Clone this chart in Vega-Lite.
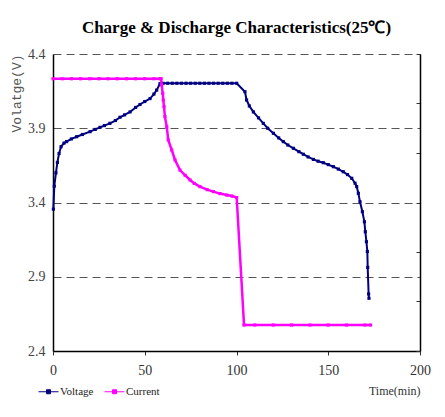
{
  "$schema": "https://vega.github.io/schema/vega-lite/v6.json",
  "width": 367,
  "height": 297,
  "autosize": {"type": "none"},
  "padding": {"left": 53, "top": 54, "right": 25, "bottom": 66},
  "background": "white",
  "title": {
    "text": "Charge & Discharge Characteristics(25℃)",
    "font": "Liberation Serif",
    "fontSize": 17,
    "fontWeight": "bold",
    "color": "black",
    "offset": 10,
    "anchor": "middle"
  },
  "data": {
    "values": [
      {"s": "Voltage", "t": 0.2, "val": 3.355},
      {"s": "Voltage", "t": 0.7, "val": 3.51},
      {"s": "Voltage", "t": 1.6, "val": 3.6},
      {"s": "Voltage", "t": 2.4, "val": 3.67},
      {"s": "Voltage", "t": 3.3, "val": 3.73},
      {"s": "Voltage", "t": 4.4, "val": 3.776},
      {"s": "Voltage", "t": 6, "val": 3.8},
      {"s": "Voltage", "t": 7.4, "val": 3.81},
      {"s": "Voltage", "t": 10, "val": 3.828},
      {"s": "Voltage", "t": 12.9, "val": 3.843},
      {"s": "Voltage", "t": 16, "val": 3.858},
      {"s": "Voltage", "t": 20.2, "val": 3.877},
      {"s": "Voltage", "t": 23, "val": 3.892},
      {"s": "Voltage", "t": 25.6, "val": 3.906},
      {"s": "Voltage", "t": 28, "val": 3.918},
      {"s": "Voltage", "t": 31, "val": 3.933},
      {"s": "Voltage", "t": 34, "val": 3.952},
      {"s": "Voltage", "t": 36.5, "val": 3.974},
      {"s": "Voltage", "t": 39, "val": 3.99},
      {"s": "Voltage", "t": 42, "val": 4.01},
      {"s": "Voltage", "t": 45, "val": 4.04},
      {"s": "Voltage", "t": 47.4, "val": 4.06},
      {"s": "Voltage", "t": 50, "val": 4.08},
      {"s": "Voltage", "t": 52.9, "val": 4.1},
      {"s": "Voltage", "t": 55, "val": 4.13},
      {"s": "Voltage", "t": 56.5, "val": 4.157},
      {"s": "Voltage", "t": 58.3, "val": 4.2},
      {"s": "Voltage", "t": 60, "val": 4.203},
      {"s": "Voltage", "t": 62.5, "val": 4.203},
      {"s": "Voltage", "t": 65, "val": 4.203},
      {"s": "Voltage", "t": 67.5, "val": 4.203},
      {"s": "Voltage", "t": 70, "val": 4.203},
      {"s": "Voltage", "t": 72.5, "val": 4.203},
      {"s": "Voltage", "t": 75, "val": 4.203},
      {"s": "Voltage", "t": 77.5, "val": 4.203},
      {"s": "Voltage", "t": 80, "val": 4.203},
      {"s": "Voltage", "t": 82.5, "val": 4.203},
      {"s": "Voltage", "t": 85, "val": 4.203},
      {"s": "Voltage", "t": 87.5, "val": 4.203},
      {"s": "Voltage", "t": 90, "val": 4.203},
      {"s": "Voltage", "t": 92.5, "val": 4.203},
      {"s": "Voltage", "t": 95, "val": 4.203},
      {"s": "Voltage", "t": 97.5, "val": 4.203},
      {"s": "Voltage", "t": 100.1, "val": 4.203},
      {"s": "Voltage", "t": 104.6, "val": 4.146},
      {"s": "Voltage", "t": 105.5, "val": 4.09},
      {"s": "Voltage", "t": 107, "val": 4.05},
      {"s": "Voltage", "t": 109.2, "val": 4.01},
      {"s": "Voltage", "t": 112, "val": 3.97},
      {"s": "Voltage", "t": 114.6, "val": 3.933},
      {"s": "Voltage", "t": 117, "val": 3.9},
      {"s": "Voltage", "t": 120.1, "val": 3.866},
      {"s": "Voltage", "t": 123, "val": 3.835},
      {"s": "Voltage", "t": 125.5, "val": 3.81},
      {"s": "Voltage", "t": 128, "val": 3.787},
      {"s": "Voltage", "t": 131, "val": 3.765},
      {"s": "Voltage", "t": 134, "val": 3.742},
      {"s": "Voltage", "t": 136.4, "val": 3.725},
      {"s": "Voltage", "t": 139, "val": 3.707},
      {"s": "Voltage", "t": 141.9, "val": 3.69},
      {"s": "Voltage", "t": 144.5, "val": 3.678},
      {"s": "Voltage", "t": 147.3, "val": 3.668},
      {"s": "Voltage", "t": 150, "val": 3.655},
      {"s": "Voltage", "t": 152.8, "val": 3.641},
      {"s": "Voltage", "t": 155.5, "val": 3.625},
      {"s": "Voltage", "t": 158.2, "val": 3.607},
      {"s": "Voltage", "t": 160.5, "val": 3.588},
      {"s": "Voltage", "t": 162.8, "val": 3.563},
      {"s": "Voltage", "t": 164.6, "val": 3.53},
      {"s": "Voltage", "t": 165.5, "val": 3.507},
      {"s": "Voltage", "t": 166.4, "val": 3.462},
      {"s": "Voltage", "t": 167.3, "val": 3.405},
      {"s": "Voltage", "t": 168.6, "val": 3.338},
      {"s": "Voltage", "t": 169.7, "val": 3.27},
      {"s": "Voltage", "t": 170.2, "val": 3.203},
      {"s": "Voltage", "t": 170.8, "val": 3.136},
      {"s": "Voltage", "t": 171.3, "val": 3.07},
      {"s": "Voltage", "t": 171.5, "val": 2.963},
      {"s": "Voltage", "t": 172, "val": 2.784},
      {"s": "Voltage", "t": 172.2, "val": 2.755},
      {"s": "Current", "t": 0, "val": 1.1},
      {"s": "Current", "t": 5, "val": 1.1},
      {"s": "Current", "t": 10, "val": 1.1},
      {"s": "Current", "t": 15, "val": 1.1},
      {"s": "Current", "t": 20, "val": 1.1},
      {"s": "Current", "t": 25, "val": 1.1},
      {"s": "Current", "t": 30, "val": 1.1},
      {"s": "Current", "t": 35, "val": 1.1},
      {"s": "Current", "t": 40, "val": 1.1},
      {"s": "Current", "t": 45, "val": 1.1},
      {"s": "Current", "t": 50, "val": 1.1},
      {"s": "Current", "t": 55, "val": 1.1},
      {"s": "Current", "t": 58.3, "val": 1.1},
      {"s": "Current", "t": 58.9, "val": 1.1},
      {"s": "Current", "t": 59.2, "val": 1.075},
      {"s": "Current", "t": 59.8, "val": 1.041},
      {"s": "Current", "t": 60.1, "val": 1.014},
      {"s": "Current", "t": 60.5, "val": 0.987},
      {"s": "Current", "t": 61, "val": 0.947},
      {"s": "Current", "t": 62, "val": 0.906},
      {"s": "Current", "t": 62.8, "val": 0.853},
      {"s": "Current", "t": 64.7, "val": 0.812},
      {"s": "Current", "t": 66.5, "val": 0.772},
      {"s": "Current", "t": 69.2, "val": 0.731},
      {"s": "Current", "t": 72, "val": 0.71},
      {"s": "Current", "t": 74.7, "val": 0.691},
      {"s": "Current", "t": 77, "val": 0.677},
      {"s": "Current", "t": 80.1, "val": 0.664},
      {"s": "Current", "t": 84, "val": 0.652},
      {"s": "Current", "t": 87.4, "val": 0.644},
      {"s": "Current", "t": 91, "val": 0.636},
      {"s": "Current", "t": 94.7, "val": 0.63},
      {"s": "Current", "t": 97.5, "val": 0.626},
      {"s": "Current", "t": 100.1, "val": 0.62},
      {"s": "Current", "t": 104.1, "val": 0.105},
      {"s": "Current", "t": 110, "val": 0.105},
      {"s": "Current", "t": 120, "val": 0.105},
      {"s": "Current", "t": 130, "val": 0.105},
      {"s": "Current", "t": 140, "val": 0.105},
      {"s": "Current", "t": 150, "val": 0.105},
      {"s": "Current", "t": 160, "val": 0.105},
      {"s": "Current", "t": 170, "val": 0.105},
      {"s": "Current", "t": 173.1, "val": 0.105}
    ]
  },
  "encoding": {
    "x": {
      "field": "t",
      "type": "quantitative",
      "scale": {"domain": [0, 200], "nice": false},
      "axis": {
        "title": "Time(min)",
        "titleAnchor": "end",
        "titleFont": "Liberation Serif",
        "titleFontSize": 12,
        "titleFontWeight": "normal",
        "titleColor": "#333",
        "titlePadding": 8,
        "values": [0, 50, 100, 150, 200],
        "labelFont": "Liberation Serif",
        "labelFontSize": 14,
        "labelColor": "#333",
        "labelPadding": 8,
        "labelAlign": "center",
        "labelBaseline": "top",
        "tickSize": 4,
        "tickColor": "#333",
        "domainColor": "black",
        "domainWidth": 1.5,
        "grid": false
      }
    }
  },
  "layer": [
    {
      "transform": [{"filter": "datum.s === 'Voltage'"}],
      "mark": {"type": "line", "strokeWidth": 2, "point": {"shape": "square", "size": 10, "filled": true}},
      "encoding": {
        "y": {
          "field": "val",
          "type": "quantitative",
          "scale": {"domain": [2.4, 4.4], "nice": false, "zero": false},
          "axis": {
            "title": "Volatge(V)",
            "titleAnchor": "end",
            "titleFont": "Liberation Mono",
            "titleFontSize": 13,
            "titleFontWeight": "normal",
            "titleColor": "#555",
            "titlePadding": 4,
            "values": [2.4, 2.9, 3.4, 3.9, 4.4],
            "format": ".1f",
            "labelFont": "Liberation Serif",
            "labelFontSize": 14,
            "labelColor": "#444",
            "labelPadding": 8,
            "labelBaseline": "middle",
            "ticks": false,
            "domainColor": "black",
            "domainWidth": 1.5,
            "grid": true,
            "gridColor": "#555",
            "gridDash": [8, 5],
            "gridWidth": 1
          }
        },
        "color": {
          "field": "s",
          "type": "nominal",
          "scale": {"domain": ["Voltage", "Current"], "range": ["#000080", "#FF00FF"]},
          "legend": {
            "title": null,
            "orient": "none",
            "direction": "horizontal",
            "legendX": -15,
            "legendY": 327,
            "symbolType": "M-1,0H-0.2M0.2,0H1M-0.2,-0.2H0.2V0.2H-0.2Z",
            "symbolSize": 400,
            "symbolStrokeWidth": 1,
            "labelFont": "Liberation Serif",
            "labelFontSize": 11,
            "labelColor": "#222",
            "labelOffset": 1,
            "columnPadding": 8,
            "encode": {"symbols": {"update": {"fill": {"scale": "color", "field": "value"}}}}
          }
        }
      }
    },
    {
      "transform": [{"filter": "datum.s === 'Current'"}],
      "mark": {"type": "line", "strokeWidth": 2.5, "point": {"shape": "square", "size": 10, "filled": true}},
      "encoding": {
        "y": {
          "field": "val",
          "type": "quantitative",
          "scale": {"domain": [0, 1.2], "nice": false},
          "axis": {
            "orient": "right",
            "title": null,
            "labels": false,
            "values": [0, 0.2, 0.4, 0.6, 0.8, 1.0, 1.2],
            "tickSize": -4,
            "tickColor": "#333",
            "domainColor": "black",
            "domainWidth": 1.5,
            "grid": false
          }
        },
        "color": {"field": "s", "type": "nominal"}
      }
    }
  ],
  "resolve": {"scale": {"y": "independent"}},
  "config": {
    "view": {"stroke": null}
  }
}
